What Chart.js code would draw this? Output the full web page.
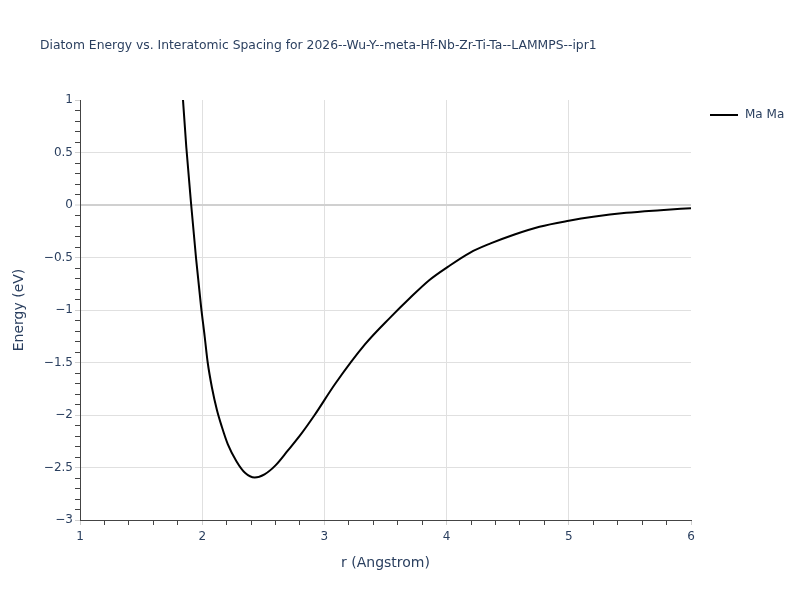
<!DOCTYPE html>
<html><head><meta charset="utf-8">
<script src="https://cdn.jsdelivr.net/npm/chart.js@4.4.1/dist/chart.umd.min.js"></script>
<style>html,body{margin:0;padding:0;background:#fff}</style>
</head><body>
<canvas id="c" width="800" height="600"></canvas>
<script>
const TITLE = "Diatom Energy vs. Interatomic Spacing for 2026--Wu-Y--meta-Hf-Nb-Zr-Ti-Ta--LAMMPS--ipr1";
const SERIES_NAME = "Ma Ma";
const X_LABEL = "r (Angstrom)";
const Y_LABEL = "Energy (eV)";
const rValues = [1.82, 1.84, 1.87, 1.91, 1.95, 1.99, 2.02, 2.045, 2.08, 2.12, 2.16, 2.21, 2.28, 2.35, 2.43, 2.51, 2.60, 2.70, 2.81, 2.92, 3.09, 3.33, 3.54, 3.70, 3.86, 4.01, 4.19, 4.36, 4.55, 4.76, 5.00, 5.20, 5.47, 5.75, 6.00];
const energyValues = [1.40, 1.05, 0.55, 0.0, -0.51, -0.96, -1.25, -1.50, -1.74, -1.95, -2.11, -2.28, -2.44, -2.55, -2.595, -2.565, -2.48, -2.34, -2.18, -2.0, -1.70, -1.33, -1.07, -0.886, -0.714, -0.589, -0.455, -0.366, -0.283, -0.207, -0.15, -0.112, -0.074, -0.049, -0.03];
const xRange = [1, 6];
const yRange = [-3, 1];
const xMajorStep = 1, xMinorStep = 0.2;
const yMajorStep = 0.5, yMinorStep = 0.1;

const TEXT = '#2a3f5f';
const FONT = '"DejaVu Sans", Verdana, sans-serif';

function isMultiple(v, step) {
  const q = v / step;
  return Math.abs(q - Math.round(q)) < 1e-6;
}
function fmt(v) {
  const r = Math.round(v * 10) / 10;
  const s = String(Math.abs(r));
  return (r < 0 ? '\u2212' : '') + s;
}

const overlay = {
  id: 'overlay',
  afterDraw(chart) {
    const ctx = chart.ctx;
    ctx.save();
    ctx.fillStyle = TEXT;
    ctx.textBaseline = 'middle';
    ctx.textAlign = 'left';
    ctx.font = '12.35px ' + FONT;
    ctx.fillText(TITLE, 40, 46);
    const ly = 115;
    ctx.strokeStyle = '#000';
    ctx.lineWidth = 2;
    ctx.beginPath(); ctx.moveTo(710, ly); ctx.lineTo(738, ly); ctx.stroke();
    ctx.font = '12px ' + FONT;
    ctx.fillText(SERIES_NAME, 745, ly);
    ctx.restore();
  }
};

const data = rValues.map((r, i) => ({x: r, y: energyValues[i]}));

new Chart(document.getElementById('c'), {
  type: 'scatter',
  data: { datasets: [{
    label: SERIES_NAME,
    data: data,
    showLine: true,
    borderColor: '#000',
    backgroundColor: '#000',
    borderWidth: 2,
    pointRadius: 0,
    cubicInterpolationMode: 'monotone'
  }]},
  options: {
    responsive: false,
    animation: false,
    layout: { padding: { top: 100, right: 109, left: 0, bottom: 0 } },
    plugins: { legend: { display: false }, title: { display: false }, tooltip: { enabled: false } },
    scales: {
      x: {
        type: 'linear', min: xRange[0], max: xRange[1],
        afterFit(s) { s.height = 80; },
        ticks: {
          stepSize: xMinorStep, autoSkip: false, maxRotation: 0, padding: 5,
          color: TEXT, font: { size: 12, family: FONT },
          callback: v => isMultiple(v, xMajorStep) ? fmt(v) : ''
        },
        grid: {
          color: c => {
            const v = c.tick ? c.tick.value : NaN;
            return (isMultiple(v, xMajorStep) && v > xRange[0] && v < xRange[1]) ? '#e0e0e0' : 'rgba(0,0,0,0)';
          },
          tickColor: c => (c.tick && isMultiple(c.tick.value, xMajorStep)) ? '#d0d0d0' : '#444',
          tickLength: 5, lineWidth: 1
        },
        border: { display: true, color: '#444', width: 1 },
        title: { display: true, text: X_LABEL, color: TEXT, font: { size: 14, family: FONT }, padding: { top: 0, bottom: 28 } }
      },
      y: {
        type: 'linear', min: yRange[0], max: yRange[1],
        afterFit(s) { s.width = 80; },
        ticks: {
          stepSize: yMinorStep, autoSkip: false, padding: 2,
          color: TEXT, font: { size: 12, family: FONT },
          callback: v => isMultiple(v, yMajorStep) ? fmt(v) : ''
        },
        grid: {
          color: c => {
            const v = c.tick ? c.tick.value : NaN;
            if (!(isMultiple(v, yMajorStep) && v > yRange[0] && v < yRange[1])) return 'rgba(0,0,0,0)';
            return Math.abs(v) < 1e-9 ? '#d0d0d0' : '#e0e0e0';
          },
          lineWidth: c => (c.tick && Math.abs(c.tick.value) < 1e-9) ? 2 : 1,
          tickColor: c => (c.tick && isMultiple(c.tick.value, yMajorStep)) ? '#d0d0d0' : '#444',
          tickWidth: 1,
          tickLength: 5
        },
        border: { display: true, color: '#444', width: 1 },
        title: { display: true, text: Y_LABEL, color: TEXT, font: { size: 14, family: FONT }, padding: { top: 11, bottom: 0 } }
      }
    }
  },
  plugins: [overlay]
});
</script>
</body></html>
